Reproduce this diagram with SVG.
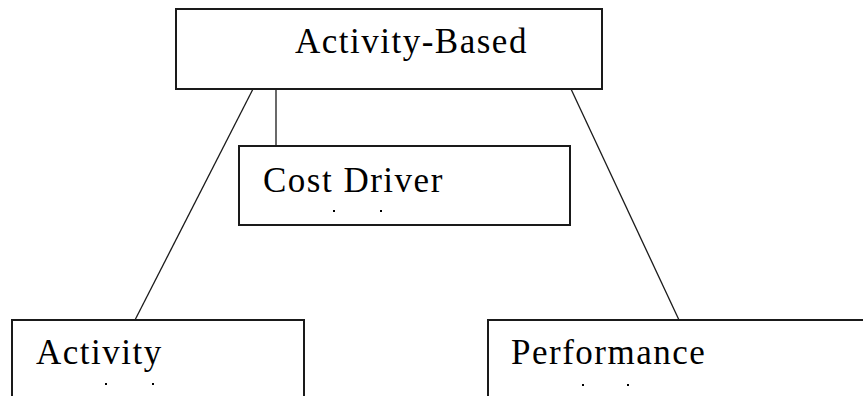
<svg xmlns="http://www.w3.org/2000/svg" width="863" height="396" viewBox="0 0 863 396">
  <style>
    .box { fill: #ffffff; stroke: #1a1a1a; stroke-width: 2; }
    .link { fill: none; stroke: #1a1a1a; stroke-width: 1.3; }
    .label { font-family: "Liberation Serif", "Times New Roman", serif; font-size: 35px; letter-spacing: 1.5px; fill: #000000; }
    .dot { fill: #000000; }
  </style>
  <rect width="863" height="396" fill="#ffffff"/>

  <g id="connectors">
    <line class="link" x1="253" y1="89" x2="135" y2="320"/>
    <line class="link" x1="276" y1="89" x2="276" y2="146"/>
    <line class="link" x1="571" y1="89" x2="679" y2="320"/>
  </g>

  <g id="activity-based">
    <rect class="box" x="176" y="9" width="426" height="80"/>
    <text class="label" x="295" y="53">Activity-Based</text>
  </g>

  <g id="cost-driver">
    <rect class="box" x="239" y="146" width="331" height="79"/>
    <text class="label" x="263" y="192">Cost Driver</text>
    <rect class="dot" x="333" y="210" width="2" height="2"/>
    <rect class="dot" x="380" y="210" width="2" height="2"/>
  </g>

  <g id="activity">
    <rect class="box" x="12" y="320" width="292" height="90"/>
    <text class="label" x="36" y="364">Activity</text>
    <rect class="dot" x="105" y="383" width="2" height="2"/>
    <rect class="dot" x="152" y="383" width="2" height="2"/>
  </g>

  <g id="performance">
    <rect class="box" x="488" y="320" width="390" height="90"/>
    <text class="label" x="511" y="364">Performance</text>
    <rect class="dot" x="582" y="384" width="2" height="2"/>
    <rect class="dot" x="627" y="384" width="2" height="2"/>
  </g>
</svg>
